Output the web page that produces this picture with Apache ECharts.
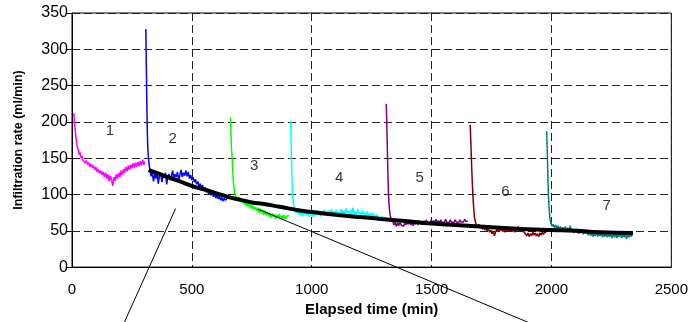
<!DOCTYPE html>
<html><head><meta charset="utf-8">
<script src="https://cdn.jsdelivr.net/npm/echarts@6/dist/echarts.min.js"></script>
<style>html,body{margin:0;padding:0;background:#fff}#c{width:691px;height:322px}</style>
</head><body><div id="c"></div>
<script>
// ---- data ----
const xTicks = [0, 500, 1000, 1500, 2000, 2500];
const yTicks = [0, 50, 100, 150, 200, 250, 300, 350];

const run1 = [[8,212],[10,200],[13,190],[16,180],[19,172],[22,165],[26,162],[30,155],[34,158],[38,150],[42,153],[46,147],[50,149],[55,143],[60,147],[65,141],[70,144],[75,138],[80,142],[85,137],[90,140],[95,134],[100,138],[105,131],[110,135],[115,129],[120,133],[125,127],[130,131],[135,124],[140,130],[145,122],[150,128],[155,118],[160,126],[165,120],[170,112],[175,124],[180,119],[185,128],[190,122],[195,130],[200,124],[205,133],[210,127],[215,135],[220,130],[225,138],[230,132],[235,140],[240,134],[245,141],[250,136],[255,143],[260,137],[265,144],[270,138],[275,145],[280,139],[285,146],[290,140],[295,148],[300,141],[305,145]];
const run2 = [[308,328],[310,280],[312,230],[314,190],[316,165],[319,150],[322,140],[326,132],[330,125],[335,130],[340,118],[345,128],[350,122],[355,131],[360,115],[365,126],[370,129],[375,117],[380,127],[385,123],[390,130],[395,114],[400,125],[405,128],[410,120],[415,126],[420,133],[425,121],[430,128],[435,124],[440,131],[445,119],[450,127],[455,134],[460,124],[465,130],[470,126],[475,133],[480,125],[485,131],[490,122],[495,127],[500,120],[505,124],[510,117],[515,121],[520,114],[525,118],[530,111],[535,115],[540,108],[545,113],[550,106],[555,110],[560,103],[565,108],[570,101],[575,105],[580,99],[585,103],[590,97],[595,101],[600,95],[605,99],[610,94],[615,98],[620,92],[625,96],[630,91],[635,95],[640,92],[645,94],[650,96]];
const run3 = [[661,206],[663,185],[665,165],[668,150],[671,130],[674,115],[677,105],[680,100],[685,96],[690,92],[695,97],[700,90],[705,94],[710,88],[715,92],[720,86],[725,90],[730,84],[735,89],[740,82],[745,87],[750,80],[755,85],[760,79],[765,83],[770,77],[775,82],[780,75],[785,80],[790,74],[795,79],[800,72],[805,78],[810,71],[815,76],[820,70],[825,75],[830,68],[835,74],[840,69],[845,73],[850,66],[855,72],[860,68],[865,73],[870,65],[875,71],[880,67],[885,72],[890,66],[895,70],[900,68],[905,71]];
const run4 = [[912,201],[914,170],[916,140],[918,118],[920,100],[923,90],[927,82],[932,78],[937,74],[942,79],[947,72],[952,77],[957,70],[962,76],[967,71],[972,78],[977,72],[982,75],[987,70],[992,77],[997,71],[1002,74],[1007,69],[1012,76],[1017,71],[1022,78],[1027,72],[1032,75],[1037,70],[1042,77],[1047,72],[1052,79],[1057,73],[1062,76],[1067,71],[1072,78],[1077,72],[1082,80],[1087,73],[1092,77],[1097,71],[1102,79],[1107,73],[1112,76],[1117,70],[1122,80],[1127,74],[1132,78],[1137,72],[1142,81],[1147,74],[1152,77],[1157,71],[1162,79],[1167,73],[1172,82],[1177,72],[1182,77],[1187,70],[1192,80],[1197,73],[1202,76],[1207,71],[1212,78],[1217,72],[1222,75],[1227,69],[1232,77],[1237,71],[1242,74],[1247,68],[1252,75],[1257,70],[1262,73],[1267,66],[1272,72],[1277,69],[1282,71],[1287,67],[1292,70],[1296,69]];
const run5 = [[1311,225],[1313,200],[1315,170],[1317,140],[1319,115],[1321,95],[1324,80],[1328,70],[1333,66],[1338,63],[1343,58],[1348,62],[1353,56],[1358,61],[1363,57],[1368,62],[1373,58],[1378,60],[1383,56],[1388,61],[1393,58],[1398,62],[1403,59],[1408,63],[1413,58],[1418,61],[1423,57],[1428,62],[1433,59],[1438,63],[1443,58],[1448,64],[1453,60],[1458,62],[1463,59],[1468,64],[1473,60],[1478,65],[1483,61],[1488,63],[1493,60],[1498,65],[1503,61],[1508,64],[1513,60],[1518,66],[1523,61],[1528,64],[1533,61],[1538,65],[1543,62],[1548,64],[1553,61],[1558,66],[1563,62],[1568,64],[1573,61],[1578,65],[1583,62],[1588,64],[1593,61],[1598,65],[1603,62],[1608,64],[1613,61],[1618,65],[1623,62],[1628,64],[1633,62],[1638,66],[1643,63],[1648,65],[1651,63]];
const run6 = [[1661,196],[1664,170],[1667,140],[1670,115],[1673,95],[1676,80],[1679,68],[1683,62],[1687,58],[1692,55],[1697,59],[1702,54],[1707,57],[1712,52],[1717,56],[1722,51],[1727,54],[1732,50],[1737,53],[1742,48],[1747,51],[1752,46],[1757,50],[1762,43],[1767,48],[1772,52],[1777,49],[1782,54],[1787,50],[1792,53],[1797,49],[1802,52],[1807,48],[1812,53],[1817,49],[1822,55],[1827,50],[1832,53],[1837,49],[1842,52],[1847,48],[1852,51],[1857,49],[1862,56],[1867,51],[1872,53],[1877,50],[1882,52],[1887,48],[1892,46],[1897,43],[1902,47],[1907,42],[1912,46],[1917,43],[1922,48],[1927,44],[1932,47],[1937,43],[1942,46],[1947,42],[1952,47],[1957,44],[1962,48],[1967,45],[1972,49],[1977,47]];
const run7 = [[1980,187],[1982,165],[1984,140],[1986,115],[1988,95],[1991,78],[1994,66],[1998,60],[2003,56],[2008,59],[2013,54],[2018,58],[2023,53],[2028,57],[2033,52],[2038,56],[2043,51],[2048,55],[2053,50],[2058,56],[2063,49],[2068,54],[2073,50],[2078,57],[2083,49],[2088,53],[2093,47],[2098,52],[2103,48],[2108,53],[2113,46],[2118,51],[2123,47],[2128,52],[2133,45],[2138,50],[2143,46],[2148,51],[2153,44],[2158,49],[2163,43],[2168,48],[2173,42],[2178,47],[2183,43],[2188,48],[2193,42],[2198,46],[2203,43],[2208,47],[2213,41],[2218,46],[2223,42],[2228,47],[2233,41],[2238,45],[2243,42],[2248,46],[2253,40],[2258,45],[2263,41],[2268,46],[2273,40],[2278,45],[2283,42],[2288,46],[2293,40],[2298,45],[2303,41],[2308,46],[2313,39],[2318,44],[2323,41],[2328,45],[2333,42],[2338,46]];
const fitCurve = [[320,134],[350,130],[400,124],[450,118],[500,112],[550,107],[600,102],[658,96],[700,93],[750,89],[800,87],[867,83],[950,78],[1000,76],[1100,72],[1200,69],[1300,66],[1400,63],[1500,60],[1600,58],[1700,56],[1800,54],[1900,52],[2000,51],[2100,50],[2200,48],[2340,47]];
const pointerA = [[213,-80],[432,80.5]];
const pointerB = [[776,80],[1931,-80]];
const runLabels = ['1','2','3','4','5','6','7'];
const runLabelX = [158, 420, 760, 1114, 1450, 1808, 2230];
const runLabelY = [187, 176, 140, 123, 123, 103, 85];
const runColors = ['#ff00ff','#0000ff','#00ff00','#00ffff','#800080','#800000','#008080'];

// ---- chart ----
const FONT = "'Liberation Sans', Arial, sans-serif";
const runs = [run1, run2, run3, run4, run5, run6, run7];
const series = runs.map((d, i) => ({
  type: 'line', data: d, showSymbol: false, symbol: 'none',
  lineStyle: { color: runColors[i], width: 1.5 }, z: 3, animation: false
}));
series.push({
  type: 'line', data: fitCurve, smooth: true, symbol: 'none',
  lineStyle: { color: '#000', width: 4 }, z: 5, animation: false
});
[pointerA, pointerB].forEach(p => series.push({
  type: 'line', data: p, symbol: 'none', clip: false,
  lineStyle: { color: '#000', width: 1 }, z: 4, animation: false
}));
series.push({
  type: 'scatter', symbolSize: 0, animation: false, z: 6,
  data: runLabels.map((t, i) => ({ value: [runLabelX[i], runLabelY[i]], name: t })),
  label: { show: true, position: 'inside', formatter: p => p.name,
    fontFamily: FONT, fontSize: 15, color: '#000' }
});

const chart = echarts.init(document.getElementById('c'), null, { renderer: 'canvas' });
chart.setOption({
  animation: false,
  backgroundColor: '#fff',
  grid: { left: 72, right: 19, top: 13, bottom: 54, show: true, borderColor: '#000', borderWidth: 1, containLabel: false },
  xAxis: {
    type: 'value', min: xTicks[0], max: xTicks[xTicks.length - 1], interval: 500,
    name: 'Elapsed time (min)', nameLocation: 'middle', nameGap: 27,
    nameTextStyle: { fontFamily: FONT, fontSize: 15, fontWeight: 'bold', color: '#000' },
    axisLine: { show: true, lineStyle: { color: '#000', width: 1 } },
    axisTick: { show: false },
    axisLabel: { fontFamily: FONT, fontSize: 15, color: '#000', margin: 15, formatter: v => String(v) },
    splitLine: { show: true, lineStyle: { color: '#222', type: [8, 4], width: 1 } }
  },
  yAxis: {
    type: 'value', min: yTicks[0], max: yTicks[yTicks.length - 1], interval: 50,
    name: 'Infiltration rate (ml/min)', nameLocation: 'middle', nameGap: 47, nameRotate: 90,
    nameTextStyle: { fontFamily: FONT, fontSize: 12.5, fontWeight: 'bold', color: '#000' },
    axisLine: { show: true, lineStyle: { color: '#000', width: 1 } },
    axisTick: { show: true, length: 5, inside: false, lineStyle: { color: '#000' } },
    axisLabel: { fontFamily: FONT, fontSize: 16, color: '#000', margin: 4, formatter: v => String(v) },
    splitLine: { show: true, lineStyle: { color: '#222', type: [8, 4], width: 1 } }
  },
  series: series
});
</script></body></html>
